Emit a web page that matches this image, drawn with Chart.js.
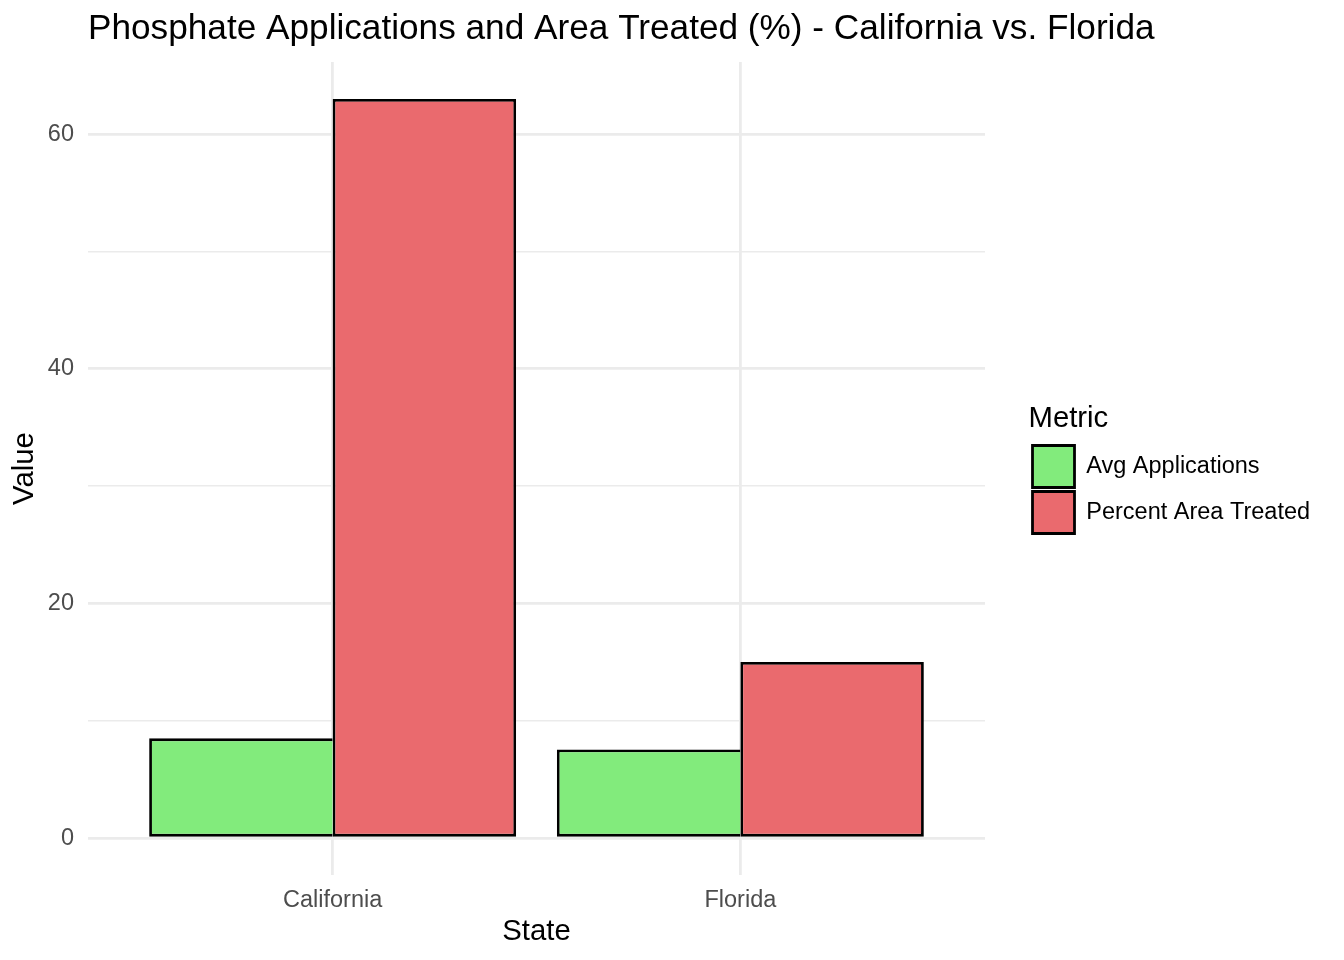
<!DOCTYPE html>
<html>
<head>
<meta charset="utf-8">
<script src="https://cdn.jsdelivr.net/npm/chart.js@4.4.1/dist/chart.umd.min.js"></script>
<style>
  html, body { margin: 0; padding: 0; background: #ffffff; }
  #wrap { width: 1344px; height: 960px; }
</style>
</head>
<body>
<div id="wrap"><canvas id="c" width="1344" height="960"></canvas></div>
<script>
// ---- data ----
const categories = ['California', 'Florida'];
const avgApplications = [8.5, 7.55];
const percentAreaTreated = [63, 15];
const seriesLabels = ['Avg Applications', 'Percent Area Treated'];
const yMajorTicks = [0, 20, 40, 60];
const yMinorTicks = [10, 30, 50];

// ---- styling ----
const GREEN = '#82EB7C';
const RED = '#EA6A6E';
const GRID = '#EBEBEB';
const FONT = "'Liberation Sans', Arial, Helvetica, sans-serif";
Chart.defaults.font.family = FONT;

const toPoints = (vals) => vals.map((v, i) => ({ x: i + 1, y: v }));
const yAllTicks = yMajorTicks.concat(yMinorTicks).sort((a, b) => a - b);

// keep the (full-width) title starting at the left edge of the plotting panel
const titleToPanel = {
  id: 'titleToPanel',
  afterLayout(chart) {
    const t = chart.titleBlock;
    if (t) { t.left = chart.chartArea.left; }
  }
};

new Chart(document.getElementById('c'), {
  type: 'bar',
  plugins: [titleToPanel],
  data: {
    datasets: [
      {
        label: seriesLabels[0],
        data: toPoints(avgApplications),
        backgroundColor: GREEN,
        borderColor: '#000000',
        borderWidth: 2.8,
        borderSkipped: 'right'
      },
      {
        label: seriesLabels[1],
        data: toPoints(percentAreaTreated),
        backgroundColor: RED,
        borderColor: '#000000',
        borderWidth: 2.8,
        borderSkipped: false
      }
    ]
  },
  options: {
    responsive: false,
    animation: false,
    devicePixelRatio: 1,
    categoryPercentage: 0.9,
    barPercentage: 1.0,
    layout: { padding: { left: 0, top: 0, bottom: 0, right: 29.5 } },
    scales: {
      x: {
        type: 'linear',
        min: 0.4,
        max: 2.6,
        bounds: 'data',
        offset: false,
        afterBuildTicks: (s) => { s.ticks = categories.map((c, i) => ({ value: i + 1 })); },
        afterFit: (s) => { s.height = 85; },
        ticks: {
          callback: (v) => categories[Math.round(v) - 1] || '',
          color: '#4D4D4D',
          font: { size: 23.5 },
          padding: 11,
          autoSkip: false,
          maxRotation: 0
        },
        grid: { color: GRID, lineWidth: 2.8, drawTicks: false, offset: false },
        border: { display: false },
        title: {
          display: true,
          text: 'State',
          color: '#000000',
          font: { size: 29.3 },
          padding: { top: 0, bottom: 10.7 }
        }
      },
      y: {
        type: 'linear',
        min: -3.15,
        max: 66.15,
        bounds: 'data',
        afterBuildTicks: (s) => { s.ticks = yAllTicks.map(v => ({ value: v })); },
        afterFit: (s) => { s.width = 88; },
        ticks: {
          callback: (v) => (yMajorTicks.includes(v) ? String(v) : ''),
          color: '#4D4D4D',
          font: { size: 23.5 },
          padding: 14,
          autoSkip: false
        },
        grid: {
          color: GRID,
          lineWidth: (ctx) => (ctx.tick && yMajorTicks.includes(ctx.tick.value) ? 2.8 : 1.4),
          drawTicks: false
        },
        border: { display: false },
        title: {
          display: true,
          text: 'Value',
          color: '#000000',
          font: { size: 29.3 },
          padding: { top: 7.1, bottom: 0 }
        }
      },
      legendGap: {
        type: 'linear',
        position: 'right',
        display: true,
        afterFit: (s) => { s.width = 43.5; },
        grid: { display: false, drawTicks: false },
        border: { display: false },
        ticks: { display: false },
        title: { display: false }
      }
    },
    plugins: {
      tooltip: { enabled: false },
      title: {
        display: true,
        text: 'Phosphate Applications and Area Treated (%) - California vs. Florida',
        align: 'start',
        fullSize: true,
        color: '#000000',
        font: { size: 35.2, weight: 'normal' },
        padding: { top: 8.6, bottom: 11.16 }
      },
      legend: {
        display: true,
        position: 'right',
        align: 'center',
        fullSize: false,
        maxWidth: 286,
        title: {
          display: true,
          text: 'Metric',
          position: 'start',
          color: '#000000',
          font: { size: 29.3 },
          padding: { top: 4.85, bottom: 1.95 }
        },
        labels: {
          color: '#000000',
          font: { size: 23.5 },
          boxWidth: 42,
          boxHeight: 42,
          padding: 4
        }
      }
    }
  }
});
</script>
</body>
</html>
